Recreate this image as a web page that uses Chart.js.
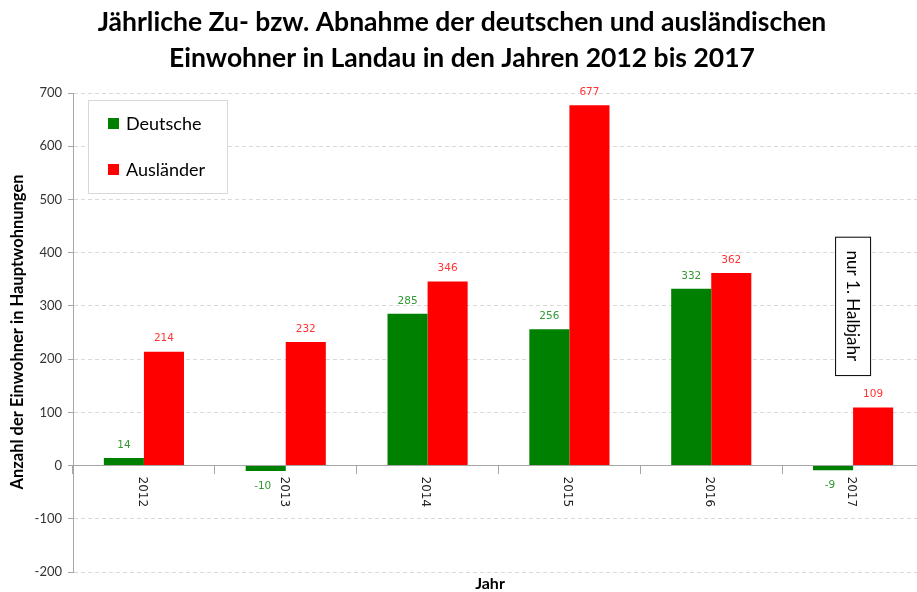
<html>
  <head>
    <style>
body {
  margin: 0;
  overflow: hidden;
  background: #fff;
}
    </style>
  </head>
  <body>
    <canvas id="chart" width="924" height="592"></canvas>
    <script src="https://cdn.jsdelivr.net/npm/chart.js"></script>
    <script>

const jahre = ['2012', '2013', '2014', '2015', '2016', '2017']
const deutsche = [14, -10, 285, 256, 332, -9]
const auslaender = [214, 232, 346, 677, 362, 109]
const yTicks = [-200, -100, 0, 100, 200, 300, 400, 500, 600, 700]

const titleLines = [
  'Jährliche Zu- bzw. Abnahme der deutschen und ausländischen',
  'Einwohner in Landau in den Jahren 2012 bis 2017'
]
const yTitle = 'Anzahl der Einwohner in Hauptwohnungen'
const xTitle = 'Jahr'
const note = 'nur 1. Halbjahr'

const GREEN = '#008000'
const RED = '#ff0000'

// everything that chart.js does not draw the way the excel chart does
const extras = {
  id: 'extras',
  afterDraw(chart) {
    const ctx = chart.ctx
    const x = chart.scales.x
    const y = chart.scales.y
    const zero = y.getPixelForValue(0)
    ctx.save()

    // title
    ctx.fillStyle = '#000'
    ctx.textAlign = 'center'
    ctx.textBaseline = 'middle'
    ctx.font = 'bold 26.5px Lato'
    ctx.fillText(titleLines[0], 462, 22)
    ctx.fillText(titleLines[1], 462, 58)

    // value labels
    ctx.font = '10.5px "DejaVu Sans"'
    const cols = ['#339933', '#ff3333']
    chart.data.datasets.forEach((ds, i) => {
      chart.getDatasetMeta(i).data.forEach((bar, j) => {
        const v = ds.data[j]
        ctx.fillStyle = cols[i]
        if (v >= 0) {
          ctx.fillText(String(v), bar.x, bar.y - 13)
        } else {
          ctx.fillText(String(v), bar.x - 3, bar.y + 15)
        }
      })
    })

    // rotated year labels just under the zero line
    ctx.font = '12px "DejaVu Sans"'
    ctx.fillStyle = '#222'
    ctx.textAlign = 'left'
    jahre.forEach((j, i) => {
      ctx.save()
      ctx.translate(x.getPixelForValue(i) - 2, zero + 11)
      ctx.rotate(Math.PI / 2)
      ctx.fillText(j, 0, 0)
      ctx.restore()
    })

    // axis titles
    ctx.textAlign = 'center'
    ctx.font = 'bold 16px Lato'
    ctx.fillStyle = '#000'
    ctx.fillText(xTitle, 490, 584)
    ctx.save()
    ctx.translate(18, 332)
    ctx.rotate(-Math.PI / 2)
    ctx.font = 'bold 16.5px Lato'
    ctx.fillText(yTitle, 0, 0)
    ctx.restore()

    // legend box
    ctx.fillStyle = '#fff'
    ctx.fillRect(88, 100, 139, 93)
    ctx.strokeStyle = '#d9d9d9'
    ctx.lineWidth = 1
    ctx.strokeRect(88.5, 100.5, 139, 93)
    ctx.font = '18px Lato'
    ctx.textAlign = 'left'
    chart.data.datasets.forEach((ds, i) => {
      const ly = 124 + i * 46
      ctx.fillStyle = ds.backgroundColor
      ctx.fillRect(108, ly - 6, 11, 11)
      ctx.fillStyle = '#000'
      ctx.fillText(ds.label, 126, ly)
    })

    // note for 2017
    const nx = x.getPixelForValue(5)
    const top = y.getPixelForValue(430)
    const bottom = y.getPixelForValue(170)
    ctx.fillStyle = '#fff'
    ctx.fillRect(nx - 18, top, 35, bottom - top)
    ctx.strokeStyle = '#000'
    ctx.strokeRect(nx - 18 + 0.5, top + 0.5, 35, bottom - top)
    ctx.save()
    ctx.translate(nx - 1, (top + bottom) / 2)
    ctx.rotate(Math.PI / 2)
    ctx.textAlign = 'center'
    ctx.fillStyle = '#000'
    ctx.font = '17px Lato'
    ctx.fillText(note, 0, 0)
    ctx.restore()

    ctx.restore()
  }
}

new Chart(document.getElementById('chart'), {
  type: 'bar',
  data: {
    labels: jahre,
    datasets: [
      { label: 'Deutsche', data: deutsche, backgroundColor: GREEN },
      { label: 'Ausländer', data: auslaender, backgroundColor: RED }
    ]
  },
  options: {
    responsive: false,
    animation: false,
    layout: { padding: { top: 93, bottom: 20, left: 0, right: 0 } },
    datasets: {
      bar: { categoryPercentage: 0.565, barPercentage: 1 }
    },
    plugins: {
      legend: { display: false },
      title: { display: false },
      tooltip: { enabled: false }
    },
    scales: {
      x: {
        position: { y: 0 },
        offset: true,
        ticks: { display: false },
        grid: {
          offset: true,
          drawOnChartArea: false,
          drawTicks: true,
          tickLength: 8,
          color: '#a6a6a6'
        },
        border: { display: true, color: '#a6a6a6' }
      },
      y: {
        min: -200,
        max: 700,
        afterFit: s => { s.width = 73 },
        afterBuildTicks: s => { s.ticks = yTicks.map(v => ({ value: v })) },
        ticks: {
          color: '#333',
          font: { family: 'Lato', size: 13 },
          padding: 6
        },
        grid: {
          color: '#d9d9d9',
          tickColor: '#a6a6a6',
          tickLength: 5
        },
        border: { color: '#a6a6a6', dash: [4, 3] }
      }
    }
  },
  plugins: [extras]
})
    </script>
  </body>
</html>
